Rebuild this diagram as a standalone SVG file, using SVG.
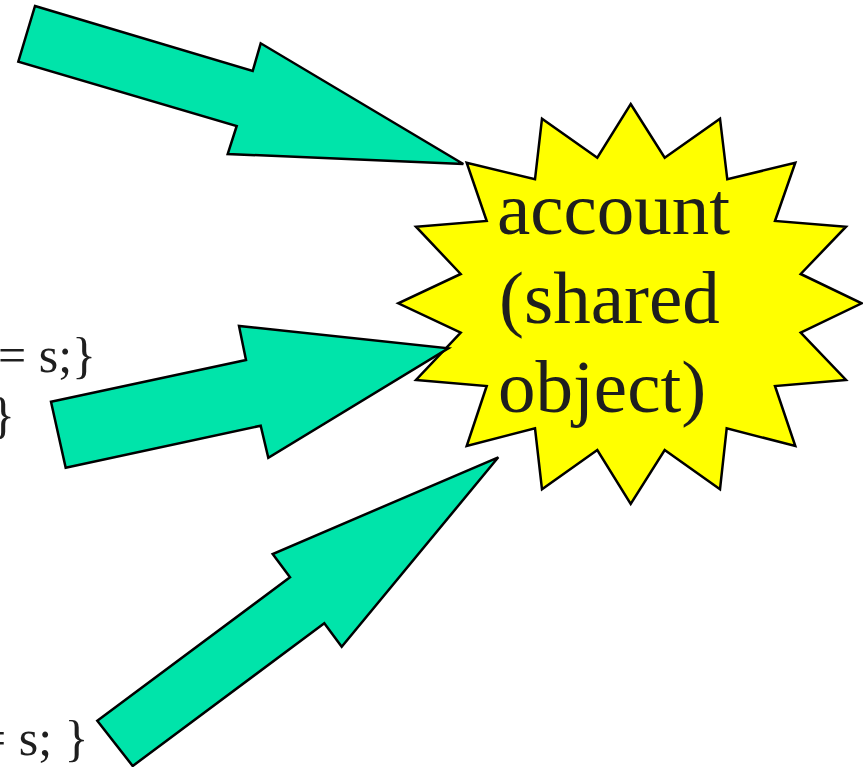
<svg xmlns="http://www.w3.org/2000/svg" width="863" height="767" viewBox="0 0 863 767">
<style>
.arrow{fill:#00E4AA;stroke:#000;stroke-width:2.5;stroke-linejoin:miter}
.star{fill:#FFFF00;stroke:#000;stroke-width:2.5;stroke-linejoin:miter}
.t{font-family:"Liberation Serif","Times New Roman",serif;fill:#1e1e1e}
.big{font-size:75px}
.code{font-size:50px}
</style>
<rect width="863" height="767" fill="#fff"/>
<g id="code-text">
<text class="t code" x="-2" y="372">= s;}</text>
<text class="t code" x="-9" y="432">}</text>
<text class="t code" x="-22" y="755">= s; }</text>
</g>
<g id="account">
<polygon class="star" points="630.7,104 664.7,157.7 720,118.7 727.3,179.3 795.3,162.7 775,221 846,226.7 800.7,274 861.7,303.3 800.7,332.7 846,380 775,386 795.3,446 726.7,428.3 720,489.3 664.7,450 630.7,504 597.3,450 542,489.3 535,428.3 466.7,446 486.7,386 416,380 460.7,332.7 398.3,303.3 460.7,274 416,226.7 486.7,221 466.7,162.7 535,179.3 542,118.7 597.3,157.7"/>
<text class="t big" x="497" y="234">account</text>
<text class="t big" x="499" y="323">(shared</text>
<text class="t big" x="498" y="412">object)</text>
</g>
<g id="connectors">
<polygon class="arrow" points="35,6 252.7,71 260.7,43.3 463.3,164 227.7,154 236.7,126 18.3,61.7"/>
<polygon class="arrow" points="51,401.7 246,360 239,326 448.3,348.3 268.3,457.7 260.7,425.7 65.7,467.7"/>
<polygon class="arrow" points="97.3,720.7 290,577.3 272.7,554 498.3,457.3 341.7,646.7 324.3,623.3 132.7,766"/>
</g>
</svg>
